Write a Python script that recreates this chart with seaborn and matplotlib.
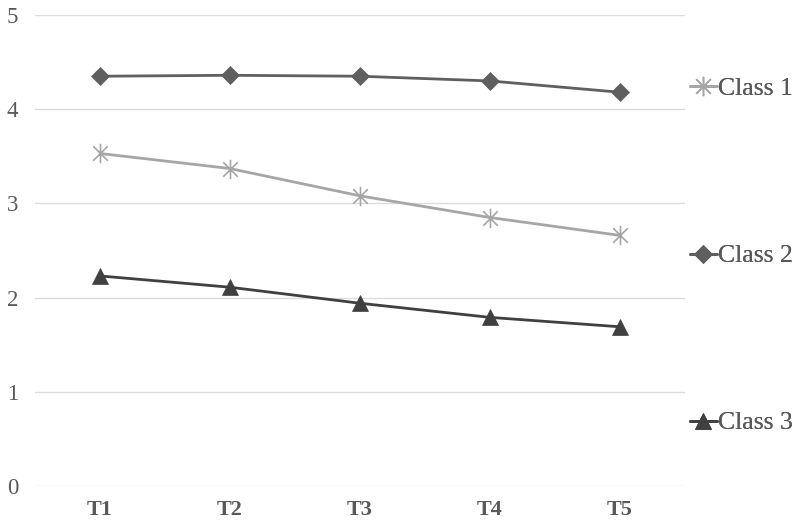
import matplotlib
matplotlib.use("Agg")
import matplotlib.pyplot as plt
import seaborn as sns
import pandas as pd
import numpy as np
from matplotlib.path import Path
from matplotlib.lines import Line2D

times = ["T1", "T2", "T3", "T4", "T5"]
class1 = [3.53, 3.37, 3.08, 2.85, 2.66]
class2 = [4.35, 4.36, 4.35, 4.30, 4.18]
class3 = [2.23, 2.11, 1.94, 1.79, 1.69]
labels = ["Class 1", "Class 2", "Class 3"]

sns.set_theme(style="white")
plt.rcParams["font.family"] = ["Liberation Serif", "DejaVu Serif"]

star = Path([(0, -1), (0, 1), (-0.75, -0.75), (0.75, 0.75), (-0.75, 0.75), (0.75, -0.75)],
            [Path.MOVETO, Path.LINETO, Path.MOVETO, Path.LINETO, Path.MOVETO, Path.LINETO])

df = pd.DataFrame({
    "time": times * 3,
    "value": class1 + class2 + class3,
    "cls": [labels[0]] * 5 + [labels[1]] * 5 + [labels[2]] * 5,
})

colors = {"Class 1": "#a6a6a6", "Class 2": "#5f5f5f", "Class 3": "#404040"}
markers = {"Class 1": star, "Class 2": "D", "Class 3": "^"}
msizes = {"Class 1": 14, "Class 2": 9, "Class 3": 12}

fig = plt.figure(figsize=(8, 5.3), dpi=100)
ax = fig.add_axes([35 / 800, 44 / 530, 650 / 800, 471 / 530])

for c in labels:
    sub = df[df["cls"] == c]
    sns.lineplot(data=sub, x="time", y="value", ax=ax, color=colors[c],
                 marker=markers[c], markersize=msizes[c], linewidth=2,
                 markeredgecolor=colors[c], markerfacecolor=colors[c],
                 markeredgewidth=1.2 if c == "Class 1" else 0.5, sort=False)

ax.set_xlim(-0.5, 4.5)
ax.set_ylim(0, 5)
ax.set_yticks(range(0, 6))
ax.set_xlabel("")
ax.set_ylabel("")
ax.grid(axis="y", color="#dcdcdc", linewidth=1)
ax.grid(axis="x", visible=False)
for s in ax.spines.values():
    s.set_visible(False)
ax.tick_params(axis="y", labelsize=16.5, labelcolor="#595959", length=0, pad=12)
ax.tick_params(axis="x", labelsize=16, labelcolor="#595959", length=0, pad=10)
for t in ax.get_xticklabels():
    t.set_fontweight("bold")

ypos = [89, 256, 423]
for c, yp in zip(labels, ypos):
    h = Line2D([], [], color=colors[c], marker=markers[c], markersize=msizes[c],
               markerfacecolor=colors[c], markeredgecolor=colors[c], linewidth=2,
               markeredgewidth=1.2 if c == "Class 1" else 0.5)
    leg = fig.legend([h], [c], loc="center left",
                     bbox_to_anchor=(690 / 800, 1 - yp / 530), frameon=False,
                     fontsize=18.5, handlelength=1.05, handletextpad=0.05,
                     borderpad=0, borderaxespad=0, labelcolor="#595959")
    fig.add_artist(leg)

fig.savefig("out.png", dpi=100)
